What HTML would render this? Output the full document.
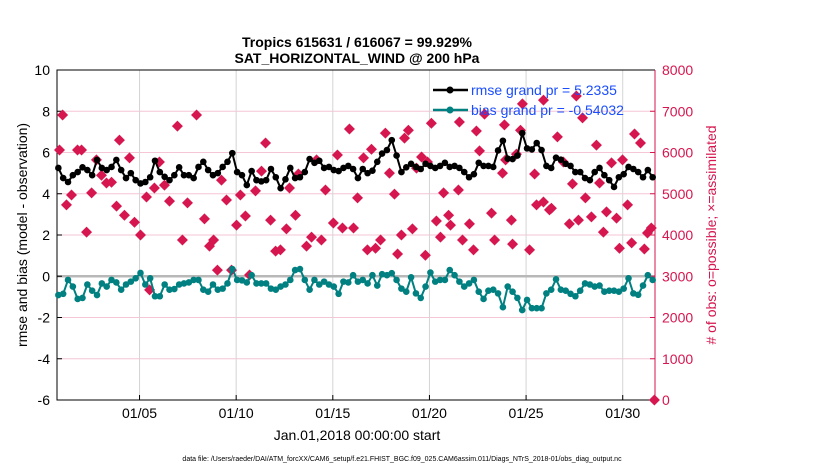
<!DOCTYPE html>
<html><head><meta charset="utf-8"><style>
body{margin:0;background:#fff;}
svg text{font-family:"Liberation Sans",sans-serif;}
</style></head><body>
<svg id="chart" width="830" height="470" viewBox="0 0 830 470" xmlns="http://www.w3.org/2000/svg">
<text x="357" y="47" text-anchor="middle" font-size="14" font-weight="bold">Tropics 615631 / 616067 = 99.929%</text>
<text x="357" y="63" text-anchor="middle" font-size="14" font-weight="bold">SAT_HORIZONTAL_WIND @ 200 hPa</text>
<g id="grid"></g>
<g id="axes"></g>
<g id="series"></g>
<text transform="translate(27,235) rotate(-90)" text-anchor="middle" font-size="14">rmse and bias (model - observation)</text>
<text transform="translate(716,235) rotate(-90)" text-anchor="middle" font-size="14" fill="#d6164f"># of obs: o=possible; ×=assimilated</text>
<text x="357" y="440" text-anchor="middle" font-size="14">Jan.01,2018 00:00:00 start</text>
<text x="402" y="461" text-anchor="middle" font-size="7">data file: /Users/raeder/DAI/ATM_forcXX/CAM6_setup/f.e21.FHIST_BGC.f09_025.CAM6assim.011/Diags_NTrS_2018-01/obs_diag_output.nc</text>
<g id="legend">
<line x1="433" y1="90" x2="468" y2="90" stroke="#000" stroke-width="2.5"/><circle cx="450" cy="90" r="3.5" fill="#000"/>
<text x="471" y="95" font-size="14" fill="#1a4dff">rmse grand pr = 5.2335</text>
<line x1="433" y1="110" x2="468" y2="110" stroke="#008080" stroke-width="2.5"/><circle cx="450" cy="110" r="3.5" fill="#008080"/>
<text x="471" y="115" font-size="14" fill="#1a4dff">bias grand pr = -0.54032</text>
</g>
</svg>
<script>
const xTickLabels=["01/05","01/10","01/15","01/20","01/25","01/30"];
const xTickDays=[4,9,14,19,24,29];
const yTicks=[-6,-4,-2,0,2,4,6,8,10];
const y2Ticks=[0,1000,2000,3000,4000,5000,6000,7000,8000];
const rmse=[5.25,4.76,4.57,4.9,5.05,5.28,5.15,4.9,5.64,5.25,5.15,5.3,5.64,5.15,4.76,5.0,4.66,4.5,4.57,4.8,5.6,5.05,4.82,4.66,4.9,5.28,4.9,4.9,4.76,5.3,5.55,
5.15,4.9,5.0,5.3,5.55,5.97,5.05,4.9,4.42,5.1,4.66,4.6,4.66,5.2,4.8,4.27,4.7,5.25,4.76,4.8,5.05,5.68,5.5,5.6,5.25,5.3,5.15,5.1,5.25,5.35,5.2,
4.76,5.2,5.0,5.12,5.55,5.95,6.12,6.6,5.85,5.05,5.28,5.45,5.3,5.2,5.45,5.35,5.25,5.35,5.5,5.3,5.35,5.25,5.05,4.8,4.95,5.5,5.35,5.35,5.3,6.1,6.57,
5.7,5.68,5.85,6.94,6.2,6.15,6.46,6.12,5.35,5.25,5.75,5.65,5.45,5.35,5.05,5.05,4.76,4.66,5.05,5.25,4.9,4.66,4.33,4.8,4.95,5.3,5.2,5.05,4.8,5.15,4.8];
const bias=[-0.91,-0.85,-0.18,-0.5,-1.1,-1.05,-0.4,-0.7,-0.91,-0.35,-0.5,-0.18,-0.3,-0.65,-0.4,-0.26,-0.1,0.16,-0.4,-0.1,-0.97,-0.97,-0.4,-0.65,-0.62,-0.4,-0.35,-0.3,-0.18,-0.18,-0.65,
-0.75,-0.4,-0.65,-0.6,-0.35,0.35,-0.18,-0.2,-0.3,0.05,-0.35,-0.35,-0.35,-0.6,-0.65,-0.5,-0.4,-0.18,0.3,0.35,-0.18,-0.65,-0.18,-0.4,-0.26,-0.4,-0.5,-0.85,-0.26,-0.3,0.05,
-0.26,-0.18,-0.35,0.05,-0.45,0.1,0.05,0.15,-0.18,-0.6,-0.75,-0.05,-0.83,-1.05,-0.5,0.18,-0.26,-0.18,-0.18,0.3,0.05,-0.26,-0.5,-0.35,-0.18,-0.75,-1.1,-0.7,-0.65,-0.83,-1.5,
-0.5,-0.75,-1.05,-1.64,-1.15,-1.55,-1.55,-1.55,-0.83,-0.65,-0.15,-0.65,-0.7,-0.85,-0.97,-0.7,-0.35,-0.4,-0.5,-0.45,-0.75,-0.7,-0.7,-0.75,-0.6,-0.1,-0.83,-0.9,-0.45,0.05,-0.18];
const obsDay=[-0.14,0.02,0.22,0.48,0.79,1.0,1.26,1.52,1.77,2.03,2.29,2.55,2.81,2.96,3.22,3.48,3.74,4.05,4.36,4.52,4.77,5.03,5.29,5.55,5.96,6.22,6.48,6.95,7.36,7.62,7.83,8.03,8.24,8.5,8.76,9.02,9.22,9.48,9.69,10.0,10.31,10.52,10.78,11.04,11.29,11.6,11.76,12.07,12.22,12.64,12.9,13.16,13.41,13.62,14.03,14.24,14.5,14.86,15.07,15.28,15.59,15.79,16.0,16.21,16.47,16.72,16.93,17.19,17.35,17.55,17.71,17.91,18.12,18.33,18.59,18.79,18.9,19.1,19.36,19.57,19.73,19.99,20.09,20.5,20.55,20.71,21.07,21.28,21.43,21.59,21.85,22.21,22.37,22.78,22.88,22.94,23.24,23.3,23.5,23.71,23.81,24.18,24.44,24.54,24.9,24.9,25.21,25.31,25.62,25.93,26.24,26.4,26.6,26.71,26.92,27.07,27.38,27.64,27.8,28.0,28.16,28.42,28.68,28.83,28.99,29.25,29.46,29.61,29.92,30.12,30.28,30.48,30.64];
const obsCount=[6060,6910,4730,4970,6060,6060,4070,5020,5820,5450,5260,5280,4700,6300,4480,5870,4310,4000,4920,2670,5140,5770,5210,4820,6640,3880,4780,6910,4390,3730,3880,3150,5330,4850,3150,4240,4970,4460,3030,5070,5550,6230,4360,3610,3640,4150,5140,4480,5480,3730,3950,5820,3880,5090,4290,5940,4170,6570,4170,4900,5870,3640,6080,3680,3880,6470,5500,4990,3540,4000,6350,6540,4150,5620,5890,3510,5770,6710,4340,3950,5020,4480,4240,5090,6740,3880,4270,3640,6520,6040,6930,4530,3880,5500,6670,5820,4360,3780,5960,6540,7180,3640,5480,4730,7270,4800,4610,4650,6380,5770,4270,5240,7370,4360,6840,4900,4440,6180,5260,4070,4560,5750,4410,3680,5820,4730,3810,6450,6230,3660,4050,4170,0];

const NS="http://www.w3.org/2000/svg";
const L=57,R=655,T=70,B=400;
const dMin=-0.27,dMax=30.67;
const xS=d=>L+(d-dMin)/(dMax-dMin)*(R-L);
const yS=v=>B-(v+6)/16*(B-T);
const y2S=v=>B-v/8000*(B-T);
function mk(tag,attrs,parent){const e=document.createElementNS(NS,tag);for(const k in attrs)e.setAttribute(k,attrs[k]);parent.appendChild(e);return e;}
const grid=document.getElementById('grid'),axes=document.getElementById('axes'),ser=document.getElementById('series');
yTicks.forEach(v=>{
  if(v!==0&&v!==10&&v!==-6){const g=mk('line',{x1:L,x2:R,y1:yS(v),y2:yS(v),stroke:'#f5c6d5','stroke-width':1},grid);
  
  }
  const t=mk('text',{x:L-7,y:yS(v)+5,'text-anchor':'end','font-size':14},axes);t.textContent=v;
  
  
  mk('line',{x1:L,x2:L+5,y1:yS(v),y2:yS(v),stroke:'#000'},axes);
});
xTickDays.forEach((d,i)=>{
  const g=mk('line',{x1:xS(d),x2:xS(d),y1:T,y2:B,stroke:'#d4d4d4','stroke-width':1},grid);
  
  
  mk('line',{x1:xS(d),x2:xS(d),y1:B,y2:B-5,stroke:'#000'},axes);
  const t=mk('text',{x:xS(d),y:B+18,'text-anchor':'middle','font-size':14},axes);t.textContent=xTickLabels[i];
  
  
});
const z=mk('line',{x1:L,x2:R,y1:yS(0),y2:yS(0),stroke:'#b8b8b8','stroke-width':2.5},grid);


y2Ticks.forEach(v=>{
  mk('line',{x1:R,x2:R-5,y1:y2S(v),y2:y2S(v),stroke:'#d6164f'},axes);
  const t=mk('text',{x:R+7,y:y2S(v)+5,'font-size':14,fill:'#d6164f'},axes);t.textContent=v;
  
  
});
mk('path',{d:`M${R},${T}H${L}V${B}H${R}`,fill:'none',stroke:'#000','stroke-width':1},axes);
mk('line',{x1:R,x2:R,y1:T,y2:B,stroke:'#d6164f','stroke-width':1},axes);
obsDay.forEach((d,i)=>{
  const cx=xS(d),cy=y2S(obsCount[i]);
  const p=mk('path',{d:`M${cx},${cy-5.5}L${cx+5.5},${cy}L${cx},${cy+5.5}L${cx-5.5},${cy}Z`,fill:'#d6164f'},ser);
  
  
});
function line(vals,color,name){
  const n=vals.length,t0=-0.2,t1=30.55;
  const pts=vals.map((v,i)=>[xS(t0+(t1-t0)*i/(n-1)),yS(v)]);
  const pl=mk('polyline',{points:pts.map(p=>p.join(',')).join(' '),fill:'none',stroke:color,'stroke-width':2},ser);
  
  
  pts.forEach(p=>{const c=mk('circle',{cx:p[0],cy:p[1],r:3.3,fill:color},ser);
    
    });
}
line(rmse,'#000','rmse');
line(bias,'#008080','bias');
</script>
</body></html>
